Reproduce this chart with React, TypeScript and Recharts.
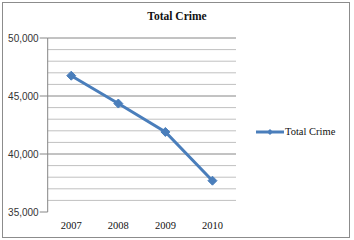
import React from 'react';
import { LineChart, Line, XAxis, YAxis, CartesianGrid } from 'recharts';

const years = ['2007', '2008', '2009', '2010'];
const totalCrime = [46750, 44350, 41900, 37700];
const yTicks = [
  35000, 36000, 37000, 38000, 39000, 40000, 41000, 42000,
  43000, 44000, 45000, 46000, 47000, 48000, 49000, 50000,
];
const majorTicks = [35000, 40000, 45000, 50000];

const data = years.map((year, i) => ({ year, total: totalCrime[i] }));

const BLUE = '#4a7ebb';
const SERIF = "'Liberation Serif', 'Times New Roman', serif";

const YTick = (props: any) => {
  const { x, y, payload } = props;
  if (!majorTicks.includes(payload.value)) return <g />;
  return (
    <g>
      <line x1={x + 1} x2={x + 9} y1={y} y2={y} stroke="#868686" />
      <text x={x} y={y} dy="0.35em" textAnchor="end" fontSize={10}
        fontFamily="'Liberation Sans', Arial, sans-serif" fill="#333">
        {payload.value.toLocaleString('en-US')}
      </text>
    </g>
  );
};

const GridLine = (props: any) => {
  const { x1, x2, y1, y2, index } = props;
  const v = yTicks[index];
  if (v === 35000) return <g />;
  const major = majorTicks.includes(v);
  return <line x1={x1} x2={x2} y1={y1} y2={y2} stroke={major ? '#868686' : '#c0c0c0'} strokeWidth={1} />;
};

const Diamond = (props: any) => {
  const { cx, cy } = props;
  const r = 4.5;
  return <path d={`M${cx},${cy - r}L${cx + r},${cy}L${cx},${cy + r}L${cx - r},${cy}Z`} fill={BLUE} stroke={BLUE} />;
};

const App = () => {
  return (
    <div style={{ position: 'absolute', left: 0, top: 0, width: 354, height: 240, background: '#fff' }}>
      <div style={{
        position: 'absolute', left: 0, top: 0, width: 354, textAlign: 'center',
        fontFamily: SERIF, fontWeight: 'bold',
        fontSize: 11.5, lineHeight: '12px', paddingTop: 10, color: '#111',
      }}>
        Total Crime
      </div>
      <LineChart width={354} height={240} data={data}
        margin={{ top: 38, right: 118, bottom: 0, left: 0 }}
        style={{ position: 'absolute', left: 0, top: 0 }}>
        <CartesianGrid vertical={false} horizontal={GridLine as any} />
        <XAxis dataKey="year" scale="band" axisLine={false} tickLine={false} height={28}
          tickMargin={10} tickSize={0} interval={0}
          tick={{ fontSize: 10.5, fill: '#111', fontFamily: SERIF }} />
        <YAxis domain={[35000, 50000]} ticks={yTicks} interval={0} width={47.7}
          axisLine={{ stroke: '#868686' }} tickLine={false} tickSize={8} tickMargin={1}
          tick={<YTick />} />
        <Line type="linear" dataKey="total" name="Total Crime" stroke={BLUE} strokeWidth={3}
          dot={<Diamond />} activeDot={false} isAnimationActive={false} />
      </LineChart>
      <div style={{ position: 'absolute', left: 256, top: 126, display: 'flex', alignItems: 'center' }}>
        <svg width={30} height={10}>
          <line x1={0} x2={28} y1={5} y2={5} stroke={BLUE} strokeWidth={3} />
          <path d="M14,2L17,5L14,8L11,5Z" fill={BLUE} />
        </svg>
        <span style={{ fontFamily: SERIF, fontSize: 10.5, color: '#111', marginLeft: -1, lineHeight: '12px' }}>
          Total Crime
        </span>
      </div>
      <div style={{
        position: 'absolute', left: 2, top: 2, width: 346, height: 234,
        border: '1px solid #8c8c8c', pointerEvents: 'none',
      }} />
    </div>
  );
};

export default App;
